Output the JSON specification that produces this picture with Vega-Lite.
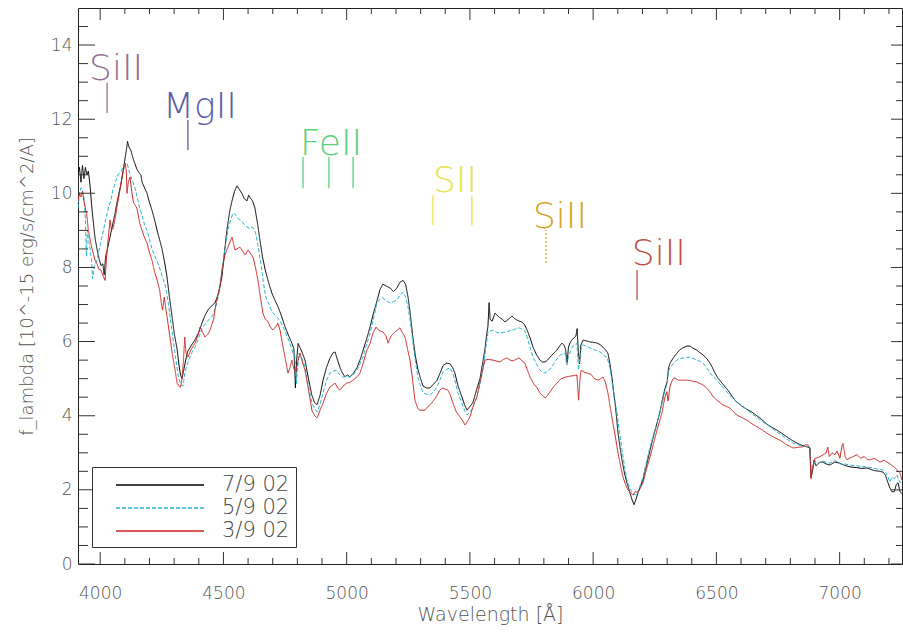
{
"$schema":"https://vega.github.io/schema/vega-lite/v6.json",
"width":824,"height":556,
"autosize":{"type":"none"},
"padding":{"left":78,"top":8,"right":1,"bottom":69},
"background":"white",
"config":{"view":{"stroke":"#222","strokeWidth":1},"font":"DejaVu Sans"},
"datasets":{
"spec":[
{"series":"7/9 02","lam":3910,"flux":10.5},{"series":"7/9 02","lam":3916,"flux":10.7},{"series":"7/9 02","lam":3922,"flux":10.3},{"series":"7/9 02","lam":3928,"flux":10.75},{"series":"7/9 02","lam":3934,"flux":10.4},{"series":"7/9 02","lam":3940,"flux":10.7},{"series":"7/9 02","lam":3946,"flux":10.5},{"series":"7/9 02","lam":3952,"flux":10.6},{"series":"7/9 02","lam":3959,"flux":10.2},{"series":"7/9 02","lam":3965,"flux":9.7},{"series":"7/9 02","lam":3971,"flux":9.3},{"series":"7/9 02","lam":3979,"flux":8.8},{"series":"7/9 02","lam":3987,"flux":8.5},{"series":"7/9 02","lam":3995,"flux":8.25},{"series":"7/9 02","lam":4003,"flux":8.05},{"series":"7/9 02","lam":4011,"flux":8.1},{"series":"7/9 02","lam":4016,"flux":7.8},{"series":"7/9 02","lam":4022,"flux":8.3},{"series":"7/9 02","lam":4028,"flux":8.45},{"series":"7/9 02","lam":4036,"flux":8.7},{"series":"7/9 02","lam":4044,"flux":8.95},{"series":"7/9 02","lam":4052,"flux":9.2},{"series":"7/9 02","lam":4060,"flux":9.45},{"series":"7/9 02","lam":4068,"flux":9.75},{"series":"7/9 02","lam":4076,"flux":10.0},{"series":"7/9 02","lam":4084,"flux":10.25},{"series":"7/9 02","lam":4093,"flux":10.6},{"series":"7/9 02","lam":4101,"flux":10.95},{"series":"7/9 02","lam":4107,"flux":11.2},{"series":"7/9 02","lam":4111,"flux":11.4},{"series":"7/9 02","lam":4117,"flux":11.25},{"series":"7/9 02","lam":4125,"flux":11.15},{"series":"7/9 02","lam":4133,"flux":10.95},{"series":"7/9 02","lam":4141,"flux":10.8},{"series":"7/9 02","lam":4149,"flux":10.65},{"series":"7/9 02","lam":4158,"flux":10.55},{"series":"7/9 02","lam":4165,"flux":10.5},{"series":"7/9 02","lam":4170,"flux":10.3},{"series":"7/9 02","lam":4180,"flux":10.15},{"series":"7/9 02","lam":4190,"flux":10.0},{"series":"7/9 02","lam":4200,"flux":9.75},{"series":"7/9 02","lam":4210,"flux":9.55},{"series":"7/9 02","lam":4220,"flux":9.3},{"series":"7/9 02","lam":4231,"flux":9.0},{"series":"7/9 02","lam":4241,"flux":8.75},{"series":"7/9 02","lam":4251,"flux":8.5},{"series":"7/9 02","lam":4261,"flux":8.15},{"series":"7/9 02","lam":4271,"flux":7.75},{"series":"7/9 02","lam":4281,"flux":7.2},{"series":"7/9 02","lam":4291,"flux":6.7},{"series":"7/9 02","lam":4301,"flux":6.2},{"series":"7/9 02","lam":4312,"flux":5.8},{"series":"7/9 02","lam":4320,"flux":5.35},{"series":"7/9 02","lam":4326,"flux":5.1},{"series":"7/9 02","lam":4332,"flux":5.0},{"series":"7/9 02","lam":4338,"flux":5.2},{"series":"7/9 02","lam":4344,"flux":5.4},{"series":"7/9 02","lam":4350,"flux":5.6},{"series":"7/9 02","lam":4356,"flux":5.75},{"series":"7/9 02","lam":4370,"flux":5.9},{"series":"7/9 02","lam":4385,"flux":6.05},{"series":"7/9 02","lam":4400,"flux":6.25},{"series":"7/9 02","lam":4413,"flux":6.5},{"series":"7/9 02","lam":4425,"flux":6.7},{"series":"7/9 02","lam":4437,"flux":6.85},{"series":"7/9 02","lam":4450,"flux":6.95},{"series":"7/9 02","lam":4466,"flux":7.05},{"series":"7/9 02","lam":4480,"flux":7.3},{"series":"7/9 02","lam":4494,"flux":7.75},{"series":"7/9 02","lam":4504,"flux":8.4},{"series":"7/9 02","lam":4514,"flux":9.0},{"series":"7/9 02","lam":4525,"flux":9.5},{"series":"7/9 02","lam":4535,"flux":9.8},{"series":"7/9 02","lam":4545,"flux":10.05},{"series":"7/9 02","lam":4555,"flux":10.2},{"series":"7/9 02","lam":4565,"flux":10.1},{"series":"7/9 02","lam":4575,"flux":10.0},{"series":"7/9 02","lam":4585,"flux":9.85},{"series":"7/9 02","lam":4596,"flux":9.8},{"series":"7/9 02","lam":4602,"flux":9.95},{"series":"7/9 02","lam":4608,"flux":9.88},{"series":"7/9 02","lam":4618,"flux":9.8},{"series":"7/9 02","lam":4628,"flux":9.6},{"series":"7/9 02","lam":4638,"flux":9.2},{"series":"7/9 02","lam":4648,"flux":8.75},{"series":"7/9 02","lam":4658,"flux":8.3},{"series":"7/9 02","lam":4669,"flux":7.95},{"series":"7/9 02","lam":4683,"flux":7.6},{"series":"7/9 02","lam":4697,"flux":7.3},{"series":"7/9 02","lam":4710,"flux":7.1},{"series":"7/9 02","lam":4721,"flux":6.95},{"series":"7/9 02","lam":4735,"flux":6.7},{"series":"7/9 02","lam":4750,"flux":6.4},{"series":"7/9 02","lam":4765,"flux":6.15},{"series":"7/9 02","lam":4778,"flux":5.95},{"series":"7/9 02","lam":4786,"flux":5.8},{"series":"7/9 02","lam":4792,"flux":4.75},{"series":"7/9 02","lam":4797,"flux":5.5},{"series":"7/9 02","lam":4803,"flux":5.95},{"series":"7/9 02","lam":4810,"flux":5.85},{"series":"7/9 02","lam":4820,"flux":5.7},{"series":"7/9 02","lam":4831,"flux":5.5},{"series":"7/9 02","lam":4845,"flux":5.0},{"series":"7/9 02","lam":4859,"flux":4.55},{"series":"7/9 02","lam":4870,"flux":4.35},{"series":"7/9 02","lam":4880,"flux":4.3},{"series":"7/9 02","lam":4892,"flux":4.55},{"series":"7/9 02","lam":4904,"flux":4.95},{"series":"7/9 02","lam":4918,"flux":5.3},{"series":"7/9 02","lam":4932,"flux":5.55},{"series":"7/9 02","lam":4945,"flux":5.7},{"series":"7/9 02","lam":4953,"flux":5.72},{"series":"7/9 02","lam":4963,"flux":5.5},{"series":"7/9 02","lam":4973,"flux":5.3},{"series":"7/9 02","lam":4983,"flux":5.15},{"series":"7/9 02","lam":4993,"flux":5.05},{"series":"7/9 02","lam":5003,"flux":5.1},{"series":"7/9 02","lam":5013,"flux":5.05},{"series":"7/9 02","lam":5028,"flux":5.15},{"series":"7/9 02","lam":5042,"flux":5.3},{"series":"7/9 02","lam":5054,"flux":5.5},{"series":"7/9 02","lam":5066,"flux":5.75},{"series":"7/9 02","lam":5080,"flux":6.05},{"series":"7/9 02","lam":5095,"flux":6.4},{"series":"7/9 02","lam":5110,"flux":6.8},{"series":"7/9 02","lam":5123,"flux":7.1},{"series":"7/9 02","lam":5135,"flux":7.4},{"series":"7/9 02","lam":5147,"flux":7.55},{"series":"7/9 02","lam":5160,"flux":7.5},{"series":"7/9 02","lam":5176,"flux":7.45},{"series":"7/9 02","lam":5190,"flux":7.35},{"series":"7/9 02","lam":5204,"flux":7.45},{"series":"7/9 02","lam":5216,"flux":7.6},{"series":"7/9 02","lam":5229,"flux":7.65},{"series":"7/9 02","lam":5239,"flux":7.55},{"series":"7/9 02","lam":5249,"flux":7.2},{"series":"7/9 02","lam":5259,"flux":6.7},{"series":"7/9 02","lam":5269,"flux":6.1},{"series":"7/9 02","lam":5279,"flux":5.6},{"series":"7/9 02","lam":5289,"flux":5.25},{"series":"7/9 02","lam":5300,"flux":5.0},{"series":"7/9 02","lam":5310,"flux":4.8},{"series":"7/9 02","lam":5324,"flux":4.75},{"series":"7/9 02","lam":5338,"flux":4.75},{"series":"7/9 02","lam":5352,"flux":4.85},{"series":"7/9 02","lam":5366,"flux":4.95},{"series":"7/9 02","lam":5379,"flux":5.15},{"series":"7/9 02","lam":5391,"flux":5.35},{"series":"7/9 02","lam":5405,"flux":5.42},{"series":"7/9 02","lam":5419,"flux":5.4},{"series":"7/9 02","lam":5430,"flux":5.3},{"series":"7/9 02","lam":5439,"flux":5.15},{"series":"7/9 02","lam":5452,"flux":4.8},{"series":"7/9 02","lam":5468,"flux":4.5},{"series":"7/9 02","lam":5478,"flux":4.3},{"series":"7/9 02","lam":5488,"flux":4.15},{"series":"7/9 02","lam":5500,"flux":4.25},{"series":"7/9 02","lam":5512,"flux":4.35},{"series":"7/9 02","lam":5527,"flux":4.7},{"series":"7/9 02","lam":5541,"flux":5.0},{"series":"7/9 02","lam":5551,"flux":5.4},{"series":"7/9 02","lam":5561,"flux":5.8},{"series":"7/9 02","lam":5568,"flux":6.2},{"series":"7/9 02","lam":5573,"flux":6.4},{"series":"7/9 02","lam":5578,"flux":7.05},{"series":"7/9 02","lam":5582,"flux":6.6},{"series":"7/9 02","lam":5590,"flux":6.55},{"series":"7/9 02","lam":5602,"flux":6.77},{"series":"7/9 02","lam":5612,"flux":6.7},{"series":"7/9 02","lam":5622,"flux":6.64},{"series":"7/9 02","lam":5632,"flux":6.6},{"series":"7/9 02","lam":5642,"flux":6.53},{"series":"7/9 02","lam":5656,"flux":6.6},{"series":"7/9 02","lam":5671,"flux":6.69},{"series":"7/9 02","lam":5681,"flux":6.62},{"series":"7/9 02","lam":5691,"flux":6.58},{"series":"7/9 02","lam":5701,"flux":6.55},{"series":"7/9 02","lam":5711,"flux":6.53},{"series":"7/9 02","lam":5722,"flux":6.45},{"series":"7/9 02","lam":5732,"flux":6.31},{"series":"7/9 02","lam":5744,"flux":6.1},{"series":"7/9 02","lam":5756,"flux":5.85},{"series":"7/9 02","lam":5770,"flux":5.65},{"series":"7/9 02","lam":5784,"flux":5.5},{"series":"7/9 02","lam":5795,"flux":5.45},{"series":"7/9 02","lam":5805,"flux":5.45},{"series":"7/9 02","lam":5815,"flux":5.5},{"series":"7/9 02","lam":5825,"flux":5.58},{"series":"7/9 02","lam":5839,"flux":5.68},{"series":"7/9 02","lam":5853,"flux":5.77},{"series":"7/9 02","lam":5866,"flux":5.9},{"series":"7/9 02","lam":5874,"flux":5.96},{"series":"7/9 02","lam":5882,"flux":5.9},{"series":"7/9 02","lam":5888,"flux":5.8},{"series":"7/9 02","lam":5894,"flux":5.42},{"series":"7/9 02","lam":5900,"flux":5.85},{"series":"7/9 02","lam":5906,"flux":5.96},{"series":"7/9 02","lam":5914,"flux":6.05},{"series":"7/9 02","lam":5922,"flux":6.1},{"series":"7/9 02","lam":5930,"flux":6.15},{"series":"7/9 02","lam":5935,"flux":6.35},{"series":"7/9 02","lam":5940,"flux":5.7},{"series":"7/9 02","lam":5945,"flux":5.4},{"series":"7/9 02","lam":5950,"flux":5.9},{"series":"7/9 02","lam":5959,"flux":6.04},{"series":"7/9 02","lam":5973,"flux":6.02},{"series":"7/9 02","lam":5987,"flux":5.99},{"series":"7/9 02","lam":6001,"flux":5.98},{"series":"7/9 02","lam":6016,"flux":5.96},{"series":"7/9 02","lam":6028,"flux":5.92},{"series":"7/9 02","lam":6040,"flux":5.85},{"series":"7/9 02","lam":6050,"flux":5.78},{"series":"7/9 02","lam":6060,"flux":5.69},{"series":"7/9 02","lam":6068,"flux":5.4},{"series":"7/9 02","lam":6076,"flux":5.04},{"series":"7/9 02","lam":6082,"flux":4.7},{"series":"7/9 02","lam":6089,"flux":4.34},{"series":"7/9 02","lam":6095,"flux":3.95},{"series":"7/9 02","lam":6101,"flux":3.53},{"series":"7/9 02","lam":6109,"flux":3.15},{"series":"7/9 02","lam":6117,"flux":2.81},{"series":"7/9 02","lam":6127,"flux":2.45},{"series":"7/9 02","lam":6137,"flux":2.19},{"series":"7/9 02","lam":6148,"flux":1.95},{"series":"7/9 02","lam":6158,"flux":1.73},{"series":"7/9 02","lam":6166,"flux":1.6},{"series":"7/9 02","lam":6174,"flux":1.75},{"series":"7/9 02","lam":6182,"flux":1.92},{"series":"7/9 02","lam":6192,"flux":2.1},{"series":"7/9 02","lam":6202,"flux":2.27},{"series":"7/9 02","lam":6216,"flux":2.65},{"series":"7/9 02","lam":6231,"flux":3.08},{"series":"7/9 02","lam":6245,"flux":3.45},{"series":"7/9 02","lam":6259,"flux":3.8},{"series":"7/9 02","lam":6271,"flux":4.1},{"series":"7/9 02","lam":6283,"flux":4.5},{"series":"7/9 02","lam":6292,"flux":4.75},{"series":"7/9 02","lam":6300,"flux":4.9},{"series":"7/9 02","lam":6306,"flux":5.3},{"series":"7/9 02","lam":6312,"flux":5.42},{"series":"7/9 02","lam":6324,"flux":5.55},{"series":"7/9 02","lam":6340,"flux":5.69},{"series":"7/9 02","lam":6352,"flux":5.78},{"series":"7/9 02","lam":6364,"flux":5.83},{"series":"7/9 02","lam":6381,"flux":5.88},{"series":"7/9 02","lam":6393,"flux":5.88},{"series":"7/9 02","lam":6405,"flux":5.82},{"series":"7/9 02","lam":6421,"flux":5.77},{"series":"7/9 02","lam":6433,"flux":5.7},{"series":"7/9 02","lam":6446,"flux":5.64},{"series":"7/9 02","lam":6460,"flux":5.55},{"series":"7/9 02","lam":6474,"flux":5.42},{"series":"7/9 02","lam":6484,"flux":5.3},{"series":"7/9 02","lam":6494,"flux":5.15},{"series":"7/9 02","lam":6508,"flux":5.0},{"series":"7/9 02","lam":6523,"flux":4.88},{"series":"7/9 02","lam":6535,"flux":4.78},{"series":"7/9 02","lam":6547,"flux":4.69},{"series":"7/9 02","lam":6561,"flux":4.55},{"series":"7/9 02","lam":6575,"flux":4.42},{"series":"7/9 02","lam":6590,"flux":4.33},{"series":"7/9 02","lam":6608,"flux":4.24},{"series":"7/9 02","lam":6624,"flux":4.17},{"series":"7/9 02","lam":6644,"flux":4.1},{"series":"7/9 02","lam":6660,"flux":4.02},{"series":"7/9 02","lam":6677,"flux":3.94},{"series":"7/9 02","lam":6692,"flux":3.85},{"series":"7/9 02","lam":6709,"flux":3.75},{"series":"7/9 02","lam":6727,"flux":3.68},{"series":"7/9 02","lam":6746,"flux":3.61},{"series":"7/9 02","lam":6766,"flux":3.52},{"series":"7/9 02","lam":6786,"flux":3.43},{"series":"7/9 02","lam":6806,"flux":3.34},{"series":"7/9 02","lam":6827,"flux":3.26},{"series":"7/9 02","lam":6848,"flux":3.2},{"series":"7/9 02","lam":6868,"flux":3.16},{"series":"7/9 02","lam":6880,"flux":3.13},{"series":"7/9 02","lam":6884,"flux":2.35},{"series":"7/9 02","lam":6890,"flux":2.5},{"series":"7/9 02","lam":6896,"flux":2.8},{"series":"7/9 02","lam":6904,"flux":2.65},{"series":"7/9 02","lam":6920,"flux":2.75},{"series":"7/9 02","lam":6932,"flux":2.75},{"series":"7/9 02","lam":6945,"flux":2.7},{"series":"7/9 02","lam":6961,"flux":2.67},{"series":"7/9 02","lam":6980,"flux":2.75},{"series":"7/9 02","lam":7001,"flux":2.72},{"series":"7/9 02","lam":7020,"flux":2.66},{"series":"7/9 02","lam":7042,"flux":2.62},{"series":"7/9 02","lam":7070,"flux":2.6},{"series":"7/9 02","lam":7090,"flux":2.58},{"series":"7/9 02","lam":7111,"flux":2.59},{"series":"7/9 02","lam":7140,"flux":2.52},{"series":"7/9 02","lam":7164,"flux":2.5},{"series":"7/9 02","lam":7176,"flux":2.48},{"series":"7/9 02","lam":7186,"flux":2.4},{"series":"7/9 02","lam":7192,"flux":2.27},{"series":"7/9 02","lam":7204,"flux":2.05},{"series":"7/9 02","lam":7212,"flux":1.95},{"series":"7/9 02","lam":7222,"flux":1.95},{"series":"7/9 02","lam":7230,"flux":2.15},{"series":"7/9 02","lam":7237,"flux":2.19},{"series":"7/9 02","lam":7245,"flux":1.95},{"series":"7/9 02","lam":7253,"flux":1.9},
{"series":"5/9 02","lam":3910,"flux":9.6},{"series":"5/9 02","lam":3916,"flux":10.0},{"series":"5/9 02","lam":3922,"flux":10.15},{"series":"5/9 02","lam":3928,"flux":10.1},{"series":"5/9 02","lam":3934,"flux":9.9},{"series":"5/9 02","lam":3940,"flux":9.3},{"series":"5/9 02","lam":3944,"flux":8.3},{"series":"5/9 02","lam":3948,"flux":9.0},{"series":"5/9 02","lam":3952,"flux":8.8},{"series":"5/9 02","lam":3959,"flux":8.5},{"series":"5/9 02","lam":3965,"flux":8.2},{"series":"5/9 02","lam":3969,"flux":7.7},{"series":"5/9 02","lam":3975,"flux":8.0},{"series":"5/9 02","lam":3981,"flux":8.1},{"series":"5/9 02","lam":3987,"flux":8.2},{"series":"5/9 02","lam":3995,"flux":8.45},{"series":"5/9 02","lam":4003,"flux":8.7},{"series":"5/9 02","lam":4013,"flux":9.0},{"series":"5/9 02","lam":4023,"flux":9.3},{"series":"5/9 02","lam":4033,"flux":9.6},{"series":"5/9 02","lam":4043,"flux":9.8},{"series":"5/9 02","lam":4052,"flux":10.1},{"series":"5/9 02","lam":4062,"flux":10.3},{"series":"5/9 02","lam":4072,"flux":10.5},{"series":"5/9 02","lam":4085,"flux":10.6},{"series":"5/9 02","lam":4093,"flux":10.7},{"series":"5/9 02","lam":4101,"flux":10.8},{"series":"5/9 02","lam":4109,"flux":10.82},{"series":"5/9 02","lam":4117,"flux":10.6},{"series":"5/9 02","lam":4125,"flux":10.45},{"series":"5/9 02","lam":4133,"flux":10.3},{"series":"5/9 02","lam":4141,"flux":10.15},{"series":"5/9 02","lam":4150,"flux":9.9},{"series":"5/9 02","lam":4160,"flux":9.6},{"series":"5/9 02","lam":4170,"flux":9.4},{"series":"5/9 02","lam":4180,"flux":9.15},{"series":"5/9 02","lam":4190,"flux":9.0},{"series":"5/9 02","lam":4200,"flux":8.75},{"series":"5/9 02","lam":4210,"flux":8.5},{"series":"5/9 02","lam":4222,"flux":8.3},{"series":"5/9 02","lam":4235,"flux":8.1},{"series":"5/9 02","lam":4245,"flux":7.9},{"series":"5/9 02","lam":4255,"flux":7.7},{"series":"5/9 02","lam":4265,"flux":7.5},{"series":"5/9 02","lam":4275,"flux":7.1},{"series":"5/9 02","lam":4285,"flux":6.6},{"series":"5/9 02","lam":4295,"flux":6.1},{"series":"5/9 02","lam":4305,"flux":5.6},{"series":"5/9 02","lam":4316,"flux":5.1},{"series":"5/9 02","lam":4326,"flux":4.85},{"series":"5/9 02","lam":4336,"flux":4.8},{"series":"5/9 02","lam":4345,"flux":5.2},{"series":"5/9 02","lam":4356,"flux":5.45},{"series":"5/9 02","lam":4372,"flux":5.7},{"series":"5/9 02","lam":4385,"flux":5.85},{"series":"5/9 02","lam":4400,"flux":6.1},{"series":"5/9 02","lam":4413,"flux":6.35},{"series":"5/9 02","lam":4428,"flux":6.5},{"series":"5/9 02","lam":4442,"flux":6.6},{"series":"5/9 02","lam":4456,"flux":6.7},{"series":"5/9 02","lam":4470,"flux":6.95},{"series":"5/9 02","lam":4482,"flux":7.3},{"series":"5/9 02","lam":4494,"flux":7.9},{"series":"5/9 02","lam":4506,"flux":8.5},{"series":"5/9 02","lam":4518,"flux":9.0},{"series":"5/9 02","lam":4530,"flux":9.3},{"series":"5/9 02","lam":4540,"flux":9.47},{"series":"5/9 02","lam":4552,"flux":9.4},{"series":"5/9 02","lam":4562,"flux":9.3},{"series":"5/9 02","lam":4574,"flux":9.25},{"series":"5/9 02","lam":4586,"flux":9.15},{"series":"5/9 02","lam":4596,"flux":9.09},{"series":"5/9 02","lam":4608,"flux":9.05},{"series":"5/9 02","lam":4618,"flux":9.09},{"series":"5/9 02","lam":4630,"flux":8.95},{"series":"5/9 02","lam":4640,"flux":8.6},{"series":"5/9 02","lam":4652,"flux":8.1},{"series":"5/9 02","lam":4662,"flux":7.6},{"series":"5/9 02","lam":4672,"flux":7.2},{"series":"5/9 02","lam":4685,"flux":7.0},{"series":"5/9 02","lam":4697,"flux":6.8},{"series":"5/9 02","lam":4712,"flux":6.7},{"series":"5/9 02","lam":4730,"flux":6.55},{"series":"5/9 02","lam":4745,"flux":6.35},{"series":"5/9 02","lam":4758,"flux":6.15},{"series":"5/9 02","lam":4770,"flux":5.95},{"series":"5/9 02","lam":4782,"flux":5.7},{"series":"5/9 02","lam":4790,"flux":5.6},{"series":"5/9 02","lam":4796,"flux":4.85},{"series":"5/9 02","lam":4800,"flux":5.2},{"series":"5/9 02","lam":4807,"flux":5.69},{"series":"5/9 02","lam":4818,"flux":5.55},{"series":"5/9 02","lam":4831,"flux":5.31},{"series":"5/9 02","lam":4845,"flux":4.8},{"series":"5/9 02","lam":4859,"flux":4.34},{"series":"5/9 02","lam":4870,"flux":4.2},{"series":"5/9 02","lam":4880,"flux":4.1},{"series":"5/9 02","lam":4892,"flux":4.3},{"series":"5/9 02","lam":4904,"flux":4.61},{"series":"5/9 02","lam":4918,"flux":4.95},{"series":"5/9 02","lam":4932,"flux":5.15},{"series":"5/9 02","lam":4945,"flux":5.2},{"series":"5/9 02","lam":4958,"flux":5.23},{"series":"5/9 02","lam":4972,"flux":5.1},{"series":"5/9 02","lam":4985,"flux":5.04},{"series":"5/9 02","lam":4998,"flux":5.06},{"series":"5/9 02","lam":5013,"flux":5.04},{"series":"5/9 02","lam":5028,"flux":5.12},{"series":"5/9 02","lam":5042,"flux":5.23},{"series":"5/9 02","lam":5054,"flux":5.4},{"series":"5/9 02","lam":5066,"flux":5.58},{"series":"5/9 02","lam":5080,"flux":5.9},{"series":"5/9 02","lam":5095,"flux":6.23},{"series":"5/9 02","lam":5110,"flux":6.65},{"series":"5/9 02","lam":5123,"flux":7.04},{"series":"5/9 02","lam":5135,"flux":7.15},{"series":"5/9 02","lam":5147,"flux":7.18},{"series":"5/9 02","lam":5160,"flux":7.1},{"series":"5/9 02","lam":5176,"flux":7.04},{"series":"5/9 02","lam":5190,"flux":7.08},{"series":"5/9 02","lam":5204,"flux":7.12},{"series":"5/9 02","lam":5216,"flux":7.25},{"series":"5/9 02","lam":5229,"flux":7.34},{"series":"5/9 02","lam":5239,"flux":7.2},{"series":"5/9 02","lam":5249,"flux":6.93},{"series":"5/9 02","lam":5259,"flux":6.5},{"series":"5/9 02","lam":5269,"flux":5.96},{"series":"5/9 02","lam":5279,"flux":5.45},{"series":"5/9 02","lam":5289,"flux":5.04},{"series":"5/9 02","lam":5300,"flux":4.8},{"series":"5/9 02","lam":5310,"flux":4.61},{"series":"5/9 02","lam":5324,"flux":4.58},{"series":"5/9 02","lam":5338,"flux":4.56},{"series":"5/9 02","lam":5352,"flux":4.65},{"series":"5/9 02","lam":5366,"flux":4.77},{"series":"5/9 02","lam":5379,"flux":4.98},{"series":"5/9 02","lam":5391,"flux":5.18},{"series":"5/9 02","lam":5405,"flux":5.25},{"series":"5/9 02","lam":5419,"flux":5.29},{"series":"5/9 02","lam":5430,"flux":5.15},{"series":"5/9 02","lam":5439,"flux":4.96},{"series":"5/9 02","lam":5452,"flux":4.6},{"series":"5/9 02","lam":5468,"flux":4.34},{"series":"5/9 02","lam":5478,"flux":4.15},{"series":"5/9 02","lam":5488,"flux":4.02},{"series":"5/9 02","lam":5500,"flux":4.1},{"series":"5/9 02","lam":5512,"flux":4.21},{"series":"5/9 02","lam":5527,"flux":4.5},{"series":"5/9 02","lam":5541,"flux":4.83},{"series":"5/9 02","lam":5551,"flux":5.2},{"series":"5/9 02","lam":5561,"flux":5.64},{"series":"5/9 02","lam":5568,"flux":6.0},{"series":"5/9 02","lam":5573,"flux":6.23},{"series":"5/9 02","lam":5581,"flux":6.28},{"series":"5/9 02","lam":5594,"flux":6.31},{"series":"5/9 02","lam":5608,"flux":6.25},{"series":"5/9 02","lam":5622,"flux":6.23},{"series":"5/9 02","lam":5636,"flux":6.25},{"series":"5/9 02","lam":5650,"flux":6.26},{"series":"5/9 02","lam":5663,"flux":6.3},{"series":"5/9 02","lam":5675,"flux":6.31},{"series":"5/9 02","lam":5688,"flux":6.35},{"series":"5/9 02","lam":5703,"flux":6.37},{"series":"5/9 02","lam":5711,"flux":6.33},{"series":"5/9 02","lam":5722,"flux":6.3},{"series":"5/9 02","lam":5732,"flux":6.12},{"series":"5/9 02","lam":5744,"flux":5.85},{"series":"5/9 02","lam":5756,"flux":5.58},{"series":"5/9 02","lam":5770,"flux":5.4},{"series":"5/9 02","lam":5784,"flux":5.23},{"series":"5/9 02","lam":5795,"flux":5.18},{"series":"5/9 02","lam":5805,"flux":5.15},{"series":"5/9 02","lam":5818,"flux":5.22},{"series":"5/9 02","lam":5832,"flux":5.31},{"series":"5/9 02","lam":5845,"flux":5.45},{"series":"5/9 02","lam":5857,"flux":5.58},{"series":"5/9 02","lam":5870,"flux":5.65},{"series":"5/9 02","lam":5886,"flux":5.69},{"series":"5/9 02","lam":5890,"flux":5.5},{"series":"5/9 02","lam":5894,"flux":5.37},{"series":"5/9 02","lam":5900,"flux":5.6},{"series":"5/9 02","lam":5914,"flux":5.85},{"series":"5/9 02","lam":5926,"flux":5.92},{"series":"5/9 02","lam":5934,"flux":5.96},{"series":"5/9 02","lam":5941,"flux":5.23},{"series":"5/9 02","lam":5946,"flux":5.6},{"series":"5/9 02","lam":5953,"flux":5.88},{"series":"5/9 02","lam":5959,"flux":5.91},{"series":"5/9 02","lam":5975,"flux":5.87},{"series":"5/9 02","lam":5987,"flux":5.83},{"series":"5/9 02","lam":6005,"flux":5.78},{"series":"5/9 02","lam":6028,"flux":5.72},{"series":"5/9 02","lam":6045,"flux":5.62},{"series":"5/9 02","lam":6056,"flux":5.58},{"series":"5/9 02","lam":6068,"flux":5.3},{"series":"5/9 02","lam":6076,"flux":4.96},{"series":"5/9 02","lam":6085,"flux":4.5},{"series":"5/9 02","lam":6097,"flux":4.07},{"series":"5/9 02","lam":6107,"flux":3.55},{"series":"5/9 02","lam":6117,"flux":3.08},{"series":"5/9 02","lam":6127,"flux":2.65},{"series":"5/9 02","lam":6137,"flux":2.27},{"series":"5/9 02","lam":6148,"flux":2.05},{"series":"5/9 02","lam":6158,"flux":1.92},{"series":"5/9 02","lam":6166,"flux":1.88},{"series":"5/9 02","lam":6178,"flux":1.86},{"series":"5/9 02","lam":6190,"flux":2.1},{"series":"5/9 02","lam":6202,"flux":2.35},{"series":"5/9 02","lam":6216,"flux":2.75},{"series":"5/9 02","lam":6231,"flux":3.16},{"series":"5/9 02","lam":6245,"flux":3.5},{"series":"5/9 02","lam":6259,"flux":3.8},{"series":"5/9 02","lam":6271,"flux":4.1},{"series":"5/9 02","lam":6283,"flux":4.42},{"series":"5/9 02","lam":6292,"flux":4.7},{"series":"5/9 02","lam":6300,"flux":4.85},{"series":"5/9 02","lam":6306,"flux":5.2},{"series":"5/9 02","lam":6312,"flux":5.31},{"series":"5/9 02","lam":6325,"flux":5.4},{"series":"5/9 02","lam":6340,"flux":5.5},{"series":"5/9 02","lam":6352,"flux":5.54},{"series":"5/9 02","lam":6364,"flux":5.56},{"series":"5/9 02","lam":6381,"flux":5.57},{"series":"5/9 02","lam":6393,"flux":5.58},{"series":"5/9 02","lam":6405,"flux":5.55},{"series":"5/9 02","lam":6421,"flux":5.5},{"series":"5/9 02","lam":6433,"flux":5.47},{"series":"5/9 02","lam":6446,"flux":5.42},{"series":"5/9 02","lam":6460,"flux":5.3},{"series":"5/9 02","lam":6474,"flux":5.15},{"series":"5/9 02","lam":6488,"flux":5.05},{"series":"5/9 02","lam":6502,"flux":4.96},{"series":"5/9 02","lam":6522,"flux":4.8},{"series":"5/9 02","lam":6543,"flux":4.64},{"series":"5/9 02","lam":6562,"flux":4.5},{"series":"5/9 02","lam":6583,"flux":4.37},{"series":"5/9 02","lam":6610,"flux":4.24},{"series":"5/9 02","lam":6636,"flux":4.1},{"series":"5/9 02","lam":6662,"flux":3.97},{"series":"5/9 02","lam":6689,"flux":3.83},{"series":"5/9 02","lam":6718,"flux":3.7},{"series":"5/9 02","lam":6746,"flux":3.56},{"series":"5/9 02","lam":6778,"flux":3.41},{"series":"5/9 02","lam":6811,"flux":3.26},{"series":"5/9 02","lam":6840,"flux":3.2},{"series":"5/9 02","lam":6868,"flux":3.16},{"series":"5/9 02","lam":6880,"flux":3.12},{"series":"5/9 02","lam":6885,"flux":2.45},{"series":"5/9 02","lam":6892,"flux":2.6},{"series":"5/9 02","lam":6900,"flux":2.78},{"series":"5/9 02","lam":6915,"flux":2.72},{"series":"5/9 02","lam":6932,"flux":2.78},{"series":"5/9 02","lam":6948,"flux":2.74},{"series":"5/9 02","lam":6961,"flux":2.72},{"series":"5/9 02","lam":6980,"flux":2.8},{"series":"5/9 02","lam":7001,"flux":2.7},{"series":"5/9 02","lam":7020,"flux":2.7},{"series":"5/9 02","lam":7042,"flux":2.67},{"series":"5/9 02","lam":7070,"flux":2.65},{"series":"5/9 02","lam":7090,"flux":2.63},{"series":"5/9 02","lam":7111,"flux":2.62},{"series":"5/9 02","lam":7140,"flux":2.58},{"series":"5/9 02","lam":7164,"flux":2.55},{"series":"5/9 02","lam":7176,"flux":2.54},{"series":"5/9 02","lam":7190,"flux":2.45},{"series":"5/9 02","lam":7204,"flux":2.21},{"series":"5/9 02","lam":7212,"flux":2.35},{"series":"5/9 02","lam":7222,"flux":2.3},{"series":"5/9 02","lam":7233,"flux":2.4},{"series":"5/9 02","lam":7245,"flux":2.2},{"series":"5/9 02","lam":7253,"flux":2.19},
{"series":"3/9 02","lam":3910,"flux":9.8},{"series":"3/9 02","lam":3916,"flux":10.0},{"series":"3/9 02","lam":3922,"flux":9.9},{"series":"3/9 02","lam":3928,"flux":10.05},{"series":"3/9 02","lam":3934,"flux":9.8},{"series":"3/9 02","lam":3940,"flux":9.6},{"series":"3/9 02","lam":3946,"flux":9.4},{"series":"3/9 02","lam":3952,"flux":9.0},{"series":"3/9 02","lam":3958,"flux":8.8},{"series":"3/9 02","lam":3965,"flux":8.55},{"series":"3/9 02","lam":3973,"flux":8.35},{"series":"3/9 02","lam":3979,"flux":8.2},{"series":"3/9 02","lam":3987,"flux":8.1},{"series":"3/9 02","lam":3995,"flux":7.95},{"series":"3/9 02","lam":4003,"flux":7.93},{"series":"3/9 02","lam":4010,"flux":7.8},{"series":"3/9 02","lam":4020,"flux":7.65},{"series":"3/9 02","lam":4025,"flux":8.2},{"series":"3/9 02","lam":4032,"flux":8.75},{"series":"3/9 02","lam":4040,"flux":9.28},{"series":"3/9 02","lam":4046,"flux":9.0},{"series":"3/9 02","lam":4052,"flux":9.05},{"series":"3/9 02","lam":4060,"flux":9.3},{"series":"3/9 02","lam":4068,"flux":9.63},{"series":"3/9 02","lam":4078,"flux":10.0},{"series":"3/9 02","lam":4089,"flux":10.44},{"series":"3/9 02","lam":4097,"flux":10.7},{"series":"3/9 02","lam":4101,"flux":10.82},{"series":"3/9 02","lam":4106,"flux":10.6},{"series":"3/9 02","lam":4109,"flux":10.0},{"series":"3/9 02","lam":4114,"flux":10.3},{"series":"3/9 02","lam":4121,"flux":10.44},{"series":"3/9 02","lam":4129,"flux":10.0},{"series":"3/9 02","lam":4135,"flux":9.75},{"series":"3/9 02","lam":4149,"flux":9.6},{"series":"3/9 02","lam":4160,"flux":9.2},{"series":"3/9 02","lam":4170,"flux":9.0},{"series":"3/9 02","lam":4180,"flux":8.8},{"series":"3/9 02","lam":4190,"flux":8.66},{"series":"3/9 02","lam":4200,"flux":8.4},{"series":"3/9 02","lam":4210,"flux":8.2},{"series":"3/9 02","lam":4220,"flux":7.9},{"series":"3/9 02","lam":4231,"flux":7.66},{"series":"3/9 02","lam":4241,"flux":7.4},{"series":"3/9 02","lam":4249,"flux":7.0},{"series":"3/9 02","lam":4253,"flux":6.85},{"series":"3/9 02","lam":4260,"flux":7.2},{"series":"3/9 02","lam":4266,"flux":6.9},{"series":"3/9 02","lam":4275,"flux":6.5},{"series":"3/9 02","lam":4283,"flux":6.12},{"series":"3/9 02","lam":4293,"flux":5.65},{"series":"3/9 02","lam":4304,"flux":5.23},{"series":"3/9 02","lam":4312,"flux":4.88},{"series":"3/9 02","lam":4320,"flux":4.8},{"series":"3/9 02","lam":4326,"flux":4.77},{"series":"3/9 02","lam":4332,"flux":5.0},{"series":"3/9 02","lam":4338,"flux":5.5},{"series":"3/9 02","lam":4343,"flux":6.12},{"series":"3/9 02","lam":4348,"flux":5.7},{"series":"3/9 02","lam":4356,"flux":5.58},{"series":"3/9 02","lam":4370,"flux":5.8},{"series":"3/9 02","lam":4385,"flux":5.96},{"series":"3/9 02","lam":4398,"flux":6.2},{"series":"3/9 02","lam":4405,"flux":6.39},{"series":"3/9 02","lam":4416,"flux":6.25},{"series":"3/9 02","lam":4425,"flux":6.12},{"series":"3/9 02","lam":4437,"flux":6.2},{"series":"3/9 02","lam":4446,"flux":6.31},{"series":"3/9 02","lam":4460,"flux":6.6},{"series":"3/9 02","lam":4470,"flux":7.04},{"series":"3/9 02","lam":4486,"flux":7.5},{"series":"3/9 02","lam":4494,"flux":7.93},{"series":"3/9 02","lam":4507,"flux":8.35},{"series":"3/9 02","lam":4518,"flux":8.55},{"series":"3/9 02","lam":4535,"flux":8.82},{"series":"3/9 02","lam":4547,"flux":8.47},{"series":"3/9 02","lam":4567,"flux":8.55},{"series":"3/9 02","lam":4588,"flux":8.34},{"series":"3/9 02","lam":4600,"flux":8.47},{"series":"3/9 02","lam":4620,"flux":8.28},{"series":"3/9 02","lam":4630,"flux":8.0},{"series":"3/9 02","lam":4640,"flux":7.66},{"series":"3/9 02","lam":4650,"flux":7.2},{"series":"3/9 02","lam":4660,"flux":6.77},{"series":"3/9 02","lam":4670,"flux":6.6},{"series":"3/9 02","lam":4680,"flux":6.55},{"series":"3/9 02","lam":4690,"flux":6.4},{"series":"3/9 02","lam":4700,"flux":6.31},{"series":"3/9 02","lam":4712,"flux":6.4},{"series":"3/9 02","lam":4721,"flux":6.5},{"series":"3/9 02","lam":4730,"flux":6.3},{"series":"3/9 02","lam":4742,"flux":5.85},{"series":"3/9 02","lam":4755,"flux":5.4},{"series":"3/9 02","lam":4762,"flux":5.15},{"series":"3/9 02","lam":4770,"flux":5.3},{"series":"3/9 02","lam":4778,"flux":5.5},{"series":"3/9 02","lam":4786,"flux":5.25},{"series":"3/9 02","lam":4795,"flux":5.23},{"series":"3/9 02","lam":4805,"flux":5.55},{"series":"3/9 02","lam":4811,"flux":5.69},{"series":"3/9 02","lam":4820,"flux":5.45},{"series":"3/9 02","lam":4831,"flux":5.23},{"series":"3/9 02","lam":4845,"flux":4.7},{"series":"3/9 02","lam":4859,"flux":4.15},{"series":"3/9 02","lam":4870,"flux":4.0},{"series":"3/9 02","lam":4880,"flux":3.94},{"series":"3/9 02","lam":4892,"flux":4.15},{"series":"3/9 02","lam":4904,"flux":4.34},{"series":"3/9 02","lam":4918,"flux":4.6},{"series":"3/9 02","lam":4932,"flux":4.77},{"series":"3/9 02","lam":4953,"flux":4.88},{"series":"3/9 02","lam":4963,"flux":4.75},{"series":"3/9 02","lam":4973,"flux":4.69},{"series":"3/9 02","lam":4985,"flux":4.8},{"series":"3/9 02","lam":5000,"flux":4.88},{"series":"3/9 02","lam":5013,"flux":4.9},{"series":"3/9 02","lam":5026,"flux":4.96},{"series":"3/9 02","lam":5042,"flux":5.05},{"series":"3/9 02","lam":5054,"flux":5.15},{"series":"3/9 02","lam":5066,"flux":5.4},{"series":"3/9 02","lam":5082,"flux":5.77},{"series":"3/9 02","lam":5095,"flux":5.95},{"series":"3/9 02","lam":5107,"flux":6.23},{"series":"3/9 02","lam":5119,"flux":6.39},{"series":"3/9 02","lam":5131,"flux":6.3},{"series":"3/9 02","lam":5147,"flux":6.26},{"series":"3/9 02","lam":5160,"flux":6.15},{"series":"3/9 02","lam":5168,"flux":5.96},{"series":"3/9 02","lam":5180,"flux":6.15},{"series":"3/9 02","lam":5196,"flux":6.26},{"series":"3/9 02","lam":5216,"flux":6.37},{"series":"3/9 02","lam":5225,"flux":6.25},{"series":"3/9 02","lam":5237,"flux":6.12},{"series":"3/9 02","lam":5247,"flux":5.8},{"series":"3/9 02","lam":5257,"flux":5.5},{"series":"3/9 02","lam":5267,"flux":5.0},{"series":"3/9 02","lam":5277,"flux":4.42},{"series":"3/9 02","lam":5288,"flux":4.2},{"series":"3/9 02","lam":5297,"flux":4.15},{"series":"3/9 02","lam":5318,"flux":4.15},{"series":"3/9 02","lam":5330,"flux":4.25},{"series":"3/9 02","lam":5345,"flux":4.34},{"series":"3/9 02","lam":5362,"flux":4.5},{"series":"3/9 02","lam":5379,"flux":4.7},{"series":"3/9 02","lam":5391,"flux":4.75},{"series":"3/9 02","lam":5399,"flux":4.72},{"series":"3/9 02","lam":5411,"flux":4.69},{"series":"3/9 02","lam":5421,"flux":4.55},{"series":"3/9 02","lam":5431,"flux":4.34},{"series":"3/9 02","lam":5445,"flux":4.1},{"series":"3/9 02","lam":5460,"flux":3.97},{"series":"3/9 02","lam":5472,"flux":3.85},{"series":"3/9 02","lam":5480,"flux":3.75},{"series":"3/9 02","lam":5490,"flux":3.85},{"series":"3/9 02","lam":5500,"flux":3.97},{"series":"3/9 02","lam":5515,"flux":4.3},{"series":"3/9 02","lam":5528,"flux":4.5},{"series":"3/9 02","lam":5545,"flux":5.04},{"series":"3/9 02","lam":5561,"flux":5.5},{"series":"3/9 02","lam":5575,"flux":5.52},{"series":"3/9 02","lam":5594,"flux":5.5},{"series":"3/9 02","lam":5610,"flux":5.47},{"series":"3/9 02","lam":5622,"flux":5.45},{"series":"3/9 02","lam":5636,"flux":5.52},{"series":"3/9 02","lam":5650,"flux":5.56},{"series":"3/9 02","lam":5663,"flux":5.5},{"series":"3/9 02","lam":5675,"flux":5.48},{"series":"3/9 02","lam":5687,"flux":5.52},{"series":"3/9 02","lam":5700,"flux":5.56},{"series":"3/9 02","lam":5711,"flux":5.48},{"series":"3/9 02","lam":5723,"flux":5.42},{"series":"3/9 02","lam":5735,"flux":5.2},{"series":"3/9 02","lam":5744,"flux":5.04},{"series":"3/9 02","lam":5760,"flux":4.85},{"series":"3/9 02","lam":5773,"flux":4.75},{"series":"3/9 02","lam":5784,"flux":4.61},{"series":"3/9 02","lam":5795,"flux":4.55},{"series":"3/9 02","lam":5805,"flux":4.48},{"series":"3/9 02","lam":5815,"flux":4.55},{"series":"3/9 02","lam":5825,"flux":4.64},{"series":"3/9 02","lam":5839,"flux":4.78},{"series":"3/9 02","lam":5853,"flux":4.88},{"series":"3/9 02","lam":5870,"flux":5.0},{"series":"3/9 02","lam":5886,"flux":5.04},{"series":"3/9 02","lam":5900,"flux":5.06},{"series":"3/9 02","lam":5918,"flux":5.08},{"series":"3/9 02","lam":5934,"flux":5.1},{"series":"3/9 02","lam":5941,"flux":4.42},{"series":"3/9 02","lam":5946,"flux":4.95},{"series":"3/9 02","lam":5951,"flux":5.23},{"series":"3/9 02","lam":5963,"flux":5.18},{"series":"3/9 02","lam":5975,"flux":5.15},{"series":"3/9 02","lam":5991,"flux":5.12},{"series":"3/9 02","lam":6005,"flux":5.0},{"series":"3/9 02","lam":6020,"flux":4.96},{"series":"3/9 02","lam":6040,"flux":5.04},{"series":"3/9 02","lam":6050,"flux":4.9},{"series":"3/9 02","lam":6060,"flux":4.61},{"series":"3/9 02","lam":6070,"flux":4.2},{"series":"3/9 02","lam":6080,"flux":3.8},{"series":"3/9 02","lam":6091,"flux":3.4},{"series":"3/9 02","lam":6101,"flux":2.99},{"series":"3/9 02","lam":6111,"flux":2.65},{"series":"3/9 02","lam":6121,"flux":2.35},{"series":"3/9 02","lam":6131,"flux":2.15},{"series":"3/9 02","lam":6141,"flux":2.0},{"series":"3/9 02","lam":6150,"flux":1.93},{"series":"3/9 02","lam":6162,"flux":1.86},{"series":"3/9 02","lam":6170,"flux":1.95},{"series":"3/9 02","lam":6182,"flux":1.94},{"series":"3/9 02","lam":6192,"flux":2.05},{"series":"3/9 02","lam":6202,"flux":2.19},{"series":"3/9 02","lam":6216,"flux":2.55},{"series":"3/9 02","lam":6231,"flux":2.89},{"series":"3/9 02","lam":6245,"flux":3.25},{"series":"3/9 02","lam":6259,"flux":3.61},{"series":"3/9 02","lam":6279,"flux":4.07},{"series":"3/9 02","lam":6291,"flux":4.5},{"series":"3/9 02","lam":6299,"flux":4.65},{"series":"3/9 02","lam":6304,"flux":4.4},{"series":"3/9 02","lam":6312,"flux":4.8},{"series":"3/9 02","lam":6324,"flux":5.0},{"series":"3/9 02","lam":6332,"flux":5.02},{"series":"3/9 02","lam":6346,"flux":4.96},{"series":"3/9 02","lam":6364,"flux":4.96},{"series":"3/9 02","lam":6381,"flux":4.96},{"series":"3/9 02","lam":6393,"flux":4.95},{"series":"3/9 02","lam":6405,"flux":4.93},{"series":"3/9 02","lam":6421,"flux":4.91},{"series":"3/9 02","lam":6433,"flux":4.87},{"series":"3/9 02","lam":6446,"flux":4.83},{"series":"3/9 02","lam":6460,"flux":4.75},{"series":"3/9 02","lam":6474,"flux":4.64},{"series":"3/9 02","lam":6488,"flux":4.5},{"series":"3/9 02","lam":6502,"flux":4.42},{"series":"3/9 02","lam":6515,"flux":4.35},{"series":"3/9 02","lam":6527,"flux":4.29},{"series":"3/9 02","lam":6540,"flux":4.25},{"series":"3/9 02","lam":6555,"flux":4.21},{"series":"3/9 02","lam":6570,"flux":4.1},{"series":"3/9 02","lam":6583,"flux":4.02},{"series":"3/9 02","lam":6603,"flux":3.95},{"series":"3/9 02","lam":6624,"flux":3.88},{"series":"3/9 02","lam":6645,"flux":3.78},{"series":"3/9 02","lam":6665,"flux":3.7},{"series":"3/9 02","lam":6685,"flux":3.62},{"series":"3/9 02","lam":6705,"flux":3.53},{"series":"3/9 02","lam":6730,"flux":3.43},{"series":"3/9 02","lam":6758,"flux":3.34},{"series":"3/9 02","lam":6785,"flux":3.22},{"series":"3/9 02","lam":6811,"flux":3.13},{"series":"3/9 02","lam":6835,"flux":3.15},{"series":"3/9 02","lam":6851,"flux":3.16},{"series":"3/9 02","lam":6862,"flux":3.22},{"series":"3/9 02","lam":6872,"flux":3.21},{"series":"3/9 02","lam":6878,"flux":3.15},{"series":"3/9 02","lam":6884,"flux":2.3},{"series":"3/9 02","lam":6890,"flux":2.6},{"series":"3/9 02","lam":6900,"flux":2.85},{"series":"3/9 02","lam":6915,"flux":2.88},{"series":"3/9 02","lam":6932,"flux":2.94},{"series":"3/9 02","lam":6945,"flux":3.0},{"series":"3/9 02","lam":6952,"flux":3.15},{"series":"3/9 02","lam":6958,"flux":2.9},{"series":"3/9 02","lam":6969,"flux":3.0},{"series":"3/9 02","lam":6980,"flux":2.95},{"series":"3/9 02","lam":6990,"flux":3.05},{"series":"3/9 02","lam":7001,"flux":2.85},{"series":"3/9 02","lam":7010,"flux":3.2},{"series":"3/9 02","lam":7014,"flux":3.25},{"series":"3/9 02","lam":7022,"flux":2.9},{"series":"3/9 02","lam":7030,"flux":2.81},{"series":"3/9 02","lam":7042,"flux":2.86},{"series":"3/9 02","lam":7056,"flux":2.9},{"series":"3/9 02","lam":7070,"flux":2.95},{"series":"3/9 02","lam":7085,"flux":2.85},{"series":"3/9 02","lam":7100,"flux":2.9},{"series":"3/9 02","lam":7111,"flux":2.82},{"series":"3/9 02","lam":7123,"flux":2.81},{"series":"3/9 02","lam":7140,"flux":2.85},{"series":"3/9 02","lam":7164,"flux":2.75},{"series":"3/9 02","lam":7180,"flux":2.8},{"series":"3/9 02","lam":7204,"flux":2.7},{"series":"3/9 02","lam":7220,"flux":2.62},{"series":"3/9 02","lam":7233,"flux":2.54},{"series":"3/9 02","lam":7245,"flux":2.45},{"series":"3/9 02","lam":7253,"flux":2.27}
],
"labels":[
{"lam":3955,"v":13.06,"label":"SiII","col":"#957090"},
{"lam":4255,"v":12.03,"label":"MgII","col":"#5c5ca8"},
{"lam":4811,"v":11.03,"label":"FeII","col":"#5ccf7a"},
{"lam":5350,"v":10.03,"label":"SII","col":"#e6e34a"},
{"lam":5756,"v":9.06,"label":"SiII","col":"#d4a326"},
{"lam":6157,"v":8.07,"label":"SiII","col":"#c0504a"}
],
"ticks":[
{"lam":4028,"y1":12.17,"y2":12.98,"col":"#957090"},
{"lam":4356,"y1":11.17,"y2":11.98,"col":"#5c5ca8"},
{"lam":4823,"y1":10.14,"y2":10.98,"col":"#5ccf7a"},
{"lam":4928,"y1":10.14,"y2":10.98,"col":"#5ccf7a"},
{"lam":5026,"y1":10.14,"y2":10.98,"col":"#5ccf7a"},
{"lam":5350,"y1":9.14,"y2":9.95,"col":"#e6e34a"},
{"lam":5508,"y1":9.14,"y2":9.95,"col":"#e6e34a"},
{"lam":6178,"y1":7.12,"y2":7.93,"col":"#c0504a"}
],
"dticks":[
{"lam":5809,"y1":8.12,"y2":9.01,"col":"#d4a326"}
],
"xmaj":[{"v":4000},{"v":4500},{"v":5000},{"v":5500},{"v":6000},{"v":6500},{"v":7000}],
"xmin":[{"v":4100},{"v":4200},{"v":4300},{"v":4400},{"v":4600},{"v":4700},{"v":4800},{"v":4900},{"v":5100},{"v":5200},{"v":5300},{"v":5400},{"v":5600},{"v":5700},{"v":5800},{"v":5900},{"v":6100},{"v":6200},{"v":6300},{"v":6400},{"v":6600},{"v":6700},{"v":6800},{"v":6900},{"v":7100},{"v":7200}],
"ymaj":[{"v":0},{"v":2},{"v":4},{"v":6},{"v":8},{"v":10},{"v":12},{"v":14}],
"ymin":[{"v":0.5},{"v":1},{"v":1.5},{"v":2.5},{"v":3},{"v":3.5},{"v":4.5},{"v":5},{"v":5.5},{"v":6.5},{"v":7},{"v":7.5},{"v":8.5},{"v":9},{"v":9.5},{"v":10.5},{"v":11},{"v":11.5},{"v":12.5},{"v":13},{"v":13.5},{"v":14.5}]
},
"layer":[
{"data":{"name":"spec"},
 "mark":{"type":"line","strokeWidth":1,"clip":true},
 "encoding":{
  "x":{"field":"lam","type":"quantitative","scale":{"domain":[3910,7253],"nice":false,"zero":false},
   "axis":{"orient":"bottom","values":[4000,4500,5000,5500,6000,6500,7000],"format":"d","ticks":false,"grid":false,"domain":false,"labelFont":"DejaVu Sans","labelFontSize":17,"labelFontWeight":200,"labelColor":"#555","labelPadding":21,"labelFlush":false,"title":"Wavelength [Å]","titleFont":"DejaVu Sans","titleFontSize":19,"titleFontWeight":200,"titleColor":"#555","titlePadding":4}},
  "y":{"field":"flux","type":"quantitative","scale":{"domain":[0,15],"nice":false,"zero":false},
   "axis":{"orient":"left","values":[0,2,4,6,8,10,12,14],"ticks":false,"grid":false,"domain":false,"labelFont":"DejaVu Sans","labelFontSize":17,"labelFontWeight":200,"labelColor":"#555","labelPadding":6,"title":"f_lambda [10^-15 erg/s/cm^2/A]","titleFont":"DejaVu Sans","titleFontSize":18,"titleFontWeight":200,"titleColor":"#555","titlePadding":14}},
  "color":{"field":"series","type":"nominal","scale":{"domain":["7/9 02","5/9 02","3/9 02"],"range":["#000000","#29b3cc","#cc2222"]},
   "legend":{"orient":"none","legendX":14,"legendY":459,"title":null,"padding":6,"strokeColor":"#333","fillColor":"white","symbolType":"M-4,0H4","symbolSize":484,"symbolStrokeWidth":1.3,"symbolOffset":50,"labelOffset":50,"labelFontSize":21,"labelFont":"DejaVu Sans","labelFontWeight":200,"labelColor":"#444","rowPadding":1,"symbolFillColor":"transparent"}},
  "strokeDash":{"field":"series","type":"nominal","scale":{"domain":["7/9 02","5/9 02","3/9 02"],"range":[[1,0],[4,2],[1,0]]},
   "legend":{"orient":"none","legendX":14,"legendY":459,"title":null,"padding":6,"strokeColor":"#333","fillColor":"white","symbolType":"M-4,0H4","symbolSize":484,"symbolStrokeWidth":1.3,"symbolOffset":50,"labelOffset":50,"labelFontSize":21,"labelFont":"DejaVu Sans","labelFontWeight":200,"labelColor":"#444","rowPadding":1,"symbolFillColor":"transparent"}}
 }},
{"data":{"name":"xmaj"},"mark":{"type":"tick","orient":"vertical","size":24,"thickness":1,"color":"#333","opacity":1,"clip":true},
 "encoding":{"x":{"field":"v","type":"quantitative","axis":null},"y":{"datum":0,"type":"quantitative","axis":null}}},
{"data":{"name":"xmaj"},"mark":{"type":"tick","orient":"vertical","size":24,"thickness":1,"color":"#333","opacity":1,"clip":true},
 "encoding":{"x":{"field":"v","type":"quantitative","axis":null},"y":{"datum":15,"type":"quantitative","axis":null}}},
{"data":{"name":"xmin"},"mark":{"type":"tick","orient":"vertical","size":12,"thickness":1,"color":"#333","opacity":1,"clip":true},
 "encoding":{"x":{"field":"v","type":"quantitative","axis":null},"y":{"datum":0,"type":"quantitative","axis":null}}},
{"data":{"name":"xmin"},"mark":{"type":"tick","orient":"vertical","size":12,"thickness":1,"color":"#333","opacity":1,"clip":true},
 "encoding":{"x":{"field":"v","type":"quantitative","axis":null},"y":{"datum":15,"type":"quantitative","axis":null}}},
{"data":{"name":"ymaj"},"mark":{"type":"tick","orient":"horizontal","size":34,"thickness":1,"color":"#333","opacity":1,"clip":true},
 "encoding":{"y":{"field":"v","type":"quantitative","axis":null},"x":{"datum":3910,"type":"quantitative","axis":null}}},
{"data":{"name":"ymaj"},"mark":{"type":"tick","orient":"horizontal","size":22,"thickness":1,"color":"#333","opacity":1,"clip":true},
 "encoding":{"y":{"field":"v","type":"quantitative","axis":null},"x":{"datum":7253,"type":"quantitative","axis":null}}},
{"data":{"name":"ymin"},"mark":{"type":"tick","orient":"horizontal","size":20,"thickness":1,"color":"#333","opacity":1,"clip":true},
 "encoding":{"y":{"field":"v","type":"quantitative","axis":null},"x":{"datum":3910,"type":"quantitative","axis":null}}},
{"data":{"name":"ymin"},"mark":{"type":"tick","orient":"horizontal","size":12,"thickness":1,"color":"#333","opacity":1,"clip":true},
 "encoding":{"y":{"field":"v","type":"quantitative","axis":null},"x":{"datum":7253,"type":"quantitative","axis":null}}},
{"data":{"name":"labels"},
 "mark":{"type":"text","align":"left","baseline":"alphabetic","fontSize":36,"font":"DejaVu Sans","fontWeight":200},
 "encoding":{
  "x":{"field":"lam","type":"quantitative","axis":null},
  "y":{"field":"v","type":"quantitative","axis":null},
  "text":{"field":"label"},
  "color":{"field":"col","type":"nominal","scale":null,"legend":null}
 }},
{"data":{"name":"ticks"},
 "mark":{"type":"rule","strokeWidth":1.3},
 "encoding":{
  "x":{"field":"lam","type":"quantitative","axis":null},
  "y":{"field":"y1","type":"quantitative","axis":null},
  "y2":{"field":"y2"},
  "color":{"field":"col","type":"nominal","scale":null,"legend":null}
 }},
{"data":{"name":"dticks"},
 "mark":{"type":"rule","strokeWidth":1.3,"strokeDash":[2,2]},
 "encoding":{
  "x":{"field":"lam","type":"quantitative","axis":null},
  "y":{"field":"y1","type":"quantitative","axis":null},
  "y2":{"field":"y2"},
  "color":{"field":"col","type":"nominal","scale":null,"legend":null}
 }}
],
"resolve":{"axis":{"x":"independent","y":"independent"}}
}
